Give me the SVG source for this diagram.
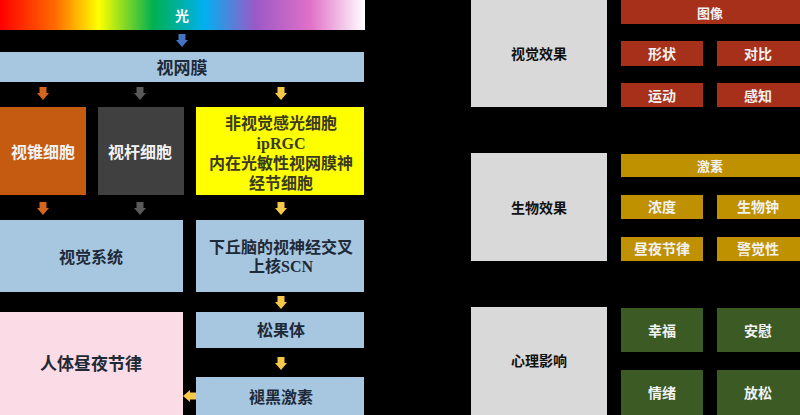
<svg xmlns="http://www.w3.org/2000/svg" width="800" height="415" viewBox="0 0 800 415">
<style>
text{font-family:"Liberation Serif","Noto Sans CJK SC",serif;font-weight:bold;text-anchor:middle;dominant-baseline:central}
.dk{fill:#1e2a38}
.wt{fill:#f2f2f2}
.bk{fill:#111}
.lb{fill:#a7c7e1}
.gy{fill:#d9d9d9}
.rd{fill:#a7301a}
.gd{fill:#bf9000}
.gn{fill:#3b5a24}
</style>
<defs>
<linearGradient id="spec" x1="0" y1="0" x2="1" y2="0">
<stop offset="0" stop-color="#ff0000"/>
<stop offset="0.15" stop-color="#ff6a00"/>
<stop offset="0.27" stop-color="#ffff00"/>
<stop offset="0.42" stop-color="#00b050"/>
<stop offset="0.56" stop-color="#00b0f0"/>
<stop offset="0.7" stop-color="#9b59c6"/>
<stop offset="0.85" stop-color="#e070c8"/>
<stop offset="1" stop-color="#ffffff"/>
</linearGradient>
<polygon id="dn" points="-3.5,0 3.5,0 3.5,6 6,6 0,13 -6,6 -3.5,6"/>
<polygon id="lf" points="13,-3.5 13,3.5 7,3.5 7,6 0,0 7,-6 7,-3.5"/>
</defs>
<rect width="800" height="415" fill="#000"/>

<g id="connectors">
<use href="#dn" x="182" y="34" fill="#4472c4"/>
<use href="#dn" x="43" y="87" fill="#d3651c"/>
<use href="#dn" x="140" y="87" fill="#595959"/>
<use href="#dn" x="281" y="87" fill="#f5c84a"/>
<use href="#dn" x="43" y="202" fill="#d3651c"/>
<use href="#dn" x="140" y="202" fill="#595959"/>
<use href="#dn" x="281" y="202" fill="#f5c84a"/>
<use href="#dn" x="281" y="296" fill="#f5c84a"/>
<use href="#dn" x="281" y="357" fill="#f5c84a"/>
<use href="#lf" x="183" y="396" fill="#f5c84a"/>
</g>

<g id="light"><rect x="0" y="0" width="365" height="30" fill="url(#spec)"/><text x="182" y="16" font-size="14" fill="#fff">光</text></g>
<g id="retina"><rect class="lb" x="0" y="52" width="364" height="30"/><text class="dk" x="182" y="68" font-size="17">视网膜</text></g>
<g id="cone"><rect x="0" y="107" width="86" height="88" fill="#c55a11"/><text class="wt" x="43" y="152" font-size="16">视锥细胞</text></g>
<g id="rod"><rect x="98" y="107" width="86" height="88" fill="#404040"/><text class="wt" x="140" y="152" font-size="16">视杆细胞</text></g>
<g id="iprgc"><rect x="196" y="107" width="168" height="88" fill="#ffff00"/>
<text x="281" y="123" font-size="16" fill="#3a3a20">非视觉感光细胞</text>
<text x="281" y="143" font-size="16" fill="#3a3a20">ipRGC</text>
<text x="281" y="163" font-size="16" fill="#3a3a20">内在光敏性视网膜神</text>
<text x="281" y="183" font-size="16" fill="#3a3a20">经节细胞</text></g>
<g id="visual-system"><rect class="lb" x="0" y="220" width="183" height="72"/><text class="dk" x="91" y="257" font-size="16">视觉系统</text></g>
<g id="scn"><rect class="lb" x="196" y="220" width="168" height="72"/>
<text class="dk" x="281" y="247" font-size="16">下丘脑的视神经交叉</text>
<text class="dk" x="281" y="266" font-size="16">上核SCN</text></g>
<g id="circadian"><rect x="0" y="312" width="183" height="103" fill="#fadbe6"/><text class="dk" x="91" y="364" font-size="17">人体昼夜节律</text></g>
<g id="pineal"><rect class="lb" x="196" y="312" width="168" height="36"/><text class="dk" x="281" y="330" font-size="16">松果体</text></g>
<g id="melatonin"><rect class="lb" x="196" y="377" width="168" height="38"/><text class="dk" x="281" y="397" font-size="16">褪黑激素</text></g>

<g id="visual-effect"><rect class="gy" x="471" y="0" width="136" height="107"/><text class="bk" x="539" y="54" font-size="14">视觉效果</text></g>
<g id="image"><rect class="rd" x="621" y="0" width="179" height="24"/><text class="wt" x="710" y="13" font-size="13">图像</text></g>
<g id="shape"><rect class="rd" x="621" y="41" width="82" height="25"/><text class="wt" x="662" y="54" font-size="14">形状</text></g>
<g id="contrast"><rect class="rd" x="717" y="41" width="83" height="25"/><text class="wt" x="758" y="54" font-size="14">对比</text></g>
<g id="motion"><rect class="rd" x="621" y="83" width="82" height="24"/><text class="wt" x="662" y="96" font-size="14">运动</text></g>
<g id="perception"><rect class="rd" x="717" y="83" width="83" height="24"/><text class="wt" x="758" y="96" font-size="14">感知</text></g>

<g id="bio-effect"><rect class="gy" x="471" y="153" width="136" height="108"/><text class="bk" x="539" y="208" font-size="14">生物效果</text></g>
<g id="hormone"><rect class="gd" x="621" y="154" width="179" height="23"/><text class="wt" x="710" y="166" font-size="13">激素</text></g>
<g id="concentration"><rect class="gd" x="621" y="195" width="82" height="24"/><text class="wt" x="662" y="207" font-size="14">浓度</text></g>
<g id="bioclock"><rect class="gd" x="717" y="195" width="83" height="24"/><text class="wt" x="758" y="207" font-size="14">生物钟</text></g>
<g id="rhythm"><rect class="gd" x="621" y="237" width="82" height="24"/><text class="wt" x="662" y="249" font-size="14">昼夜节律</text></g>
<g id="alertness"><rect class="gd" x="717" y="237" width="83" height="24"/><text class="wt" x="758" y="249" font-size="14">警觉性</text></g>

<g id="psych"><rect class="gy" x="471" y="307" width="136" height="108"/><text class="bk" x="539" y="361" font-size="14">心理影响</text></g>
<g id="happiness"><rect class="gn" x="621" y="308" width="82" height="44"/><text class="wt" x="662" y="331" font-size="14">幸福</text></g>
<g id="comfort"><rect class="gn" x="717" y="308" width="83" height="44"/><text class="wt" x="758" y="331" font-size="14">安慰</text></g>
<g id="emotion"><rect class="gn" x="621" y="370" width="82" height="45"/><text class="wt" x="662" y="393" font-size="14">情绪</text></g>
<g id="relax"><rect class="gn" x="717" y="370" width="83" height="45"/><text class="wt" x="758" y="393" font-size="14">放松</text></g>
</svg>
